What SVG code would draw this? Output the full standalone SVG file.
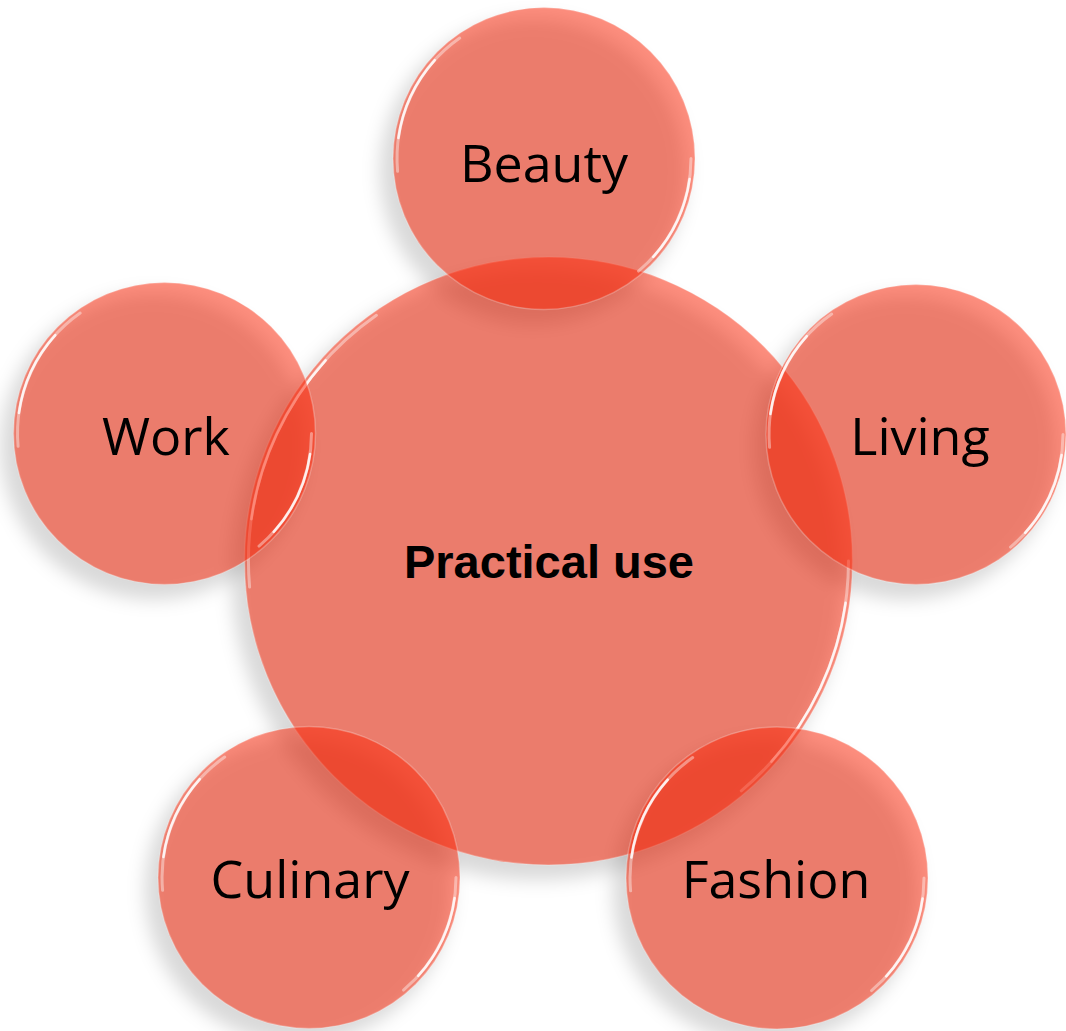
<svg xmlns="http://www.w3.org/2000/svg" width="1066" height="1031" viewBox="0 0 1066 1031">
<style>
.bub{fill:rgb(251,42,12);fill-opacity:0.53;stroke:#ffffff;stroke-opacity:0.25;stroke-width:1.5}
.sh{fill:#000;fill-opacity:0.15}
.g1{fill:none;stroke:#fff;stroke-width:3;stroke-opacity:0.4;stroke-linecap:round}
.g2{fill:none;stroke:#fff;stroke-width:2.5;stroke-opacity:0.85;stroke-linecap:round}
.lbl{font-family:"Open Sans","Noto Sans",sans-serif;font-size:52px;fill:#000;text-anchor:middle}
.ctr{font-family:"Liberation Sans",Arial,sans-serif;font-size:47px;font-weight:bold;fill:#000;text-anchor:middle}
</style>
<defs>
<filter id="blur" x="-20%" y="-20%" width="140%" height="140%"><feGaussianBlur stdDeviation="9"/></filter>
<g id="gloss">
<path class="g1" d="M -146.4 12.8 A 147 147 0 0 1 -84.3 -120.4"/>
<path class="g2" d="M -145.6 -20.5 A 147 147 0 0 1 -109.2 -98.4"/>
<path class="g1" d="M 147 0 A 147 147 0 0 1 94.5 112.6"/>
<path class="g2" d="M 145.6 20.5 A 147 147 0 0 1 109.2 98.4"/>
</g>
</defs>
<rect width="1066" height="1031" fill="#fff"/>
<g id="shadows" filter="url(#blur)" transform="translate(-11,13)">
<circle class="sh" cx="548.5" cy="561" r="306"/>
<circle class="sh" cx="544" cy="158.5" r="153"/>
<circle class="sh" cx="164.5" cy="433.5" r="153"/>
<circle class="sh" cx="916" cy="434.5" r="152"/>
<circle class="sh" cx="309" cy="877.5" r="153"/>
<circle class="sh" cx="777" cy="878" r="153"/>
</g>
<g id="connectors"></g>
<g id="node-center">
<circle class="bub" cx="548.5" cy="561" r="304"/>
<g transform="translate(548.5,561)">
<path class="g1" d="M -298.9 26.1 A 300 300 0 0 1 -172.1 -245.7"/>
<path class="g2" d="M -297.1 -41.8 A 300 300 0 0 1 -222.9 -200.7"/>
<path class="g1" d="M 300 0 A 300 300 0 0 1 192.8 229.8"/>
<path class="g2" d="M 297.1 41.8 A 300 300 0 0 1 222.9 200.7"/>
</g>
<text class="ctr" x="549" y="578">Practical use</text>
</g>
<g id="node-beauty">
<circle class="bub" cx="544" cy="158.5" r="151"/>
<use href="#gloss" transform="translate(544,158.5)"/>
<text class="lbl" x="544" y="182">Beauty</text>
</g>
<g id="node-work">
<circle class="bub" cx="164.5" cy="433.5" r="151"/>
<use href="#gloss" transform="translate(164.5,433.5)"/>
<text class="lbl" x="166" y="455">Work</text>
</g>
<g id="node-living">
<circle class="bub" cx="916" cy="434.5" r="150"/>
<use href="#gloss" transform="translate(916,434.5)"/>
<text class="lbl" x="920" y="455">Living</text>
</g>
<g id="node-culinary">
<circle class="bub" cx="309" cy="877.5" r="151"/>
<use href="#gloss" transform="translate(309,877.5)"/>
<text class="lbl" x="310" y="898">Culinary</text>
</g>
<g id="node-fashion">
<circle class="bub" cx="777" cy="878" r="151"/>
<use href="#gloss" transform="translate(777,878)"/>
<text class="lbl" x="776" y="898">Fashion</text>
</g>
</svg>
